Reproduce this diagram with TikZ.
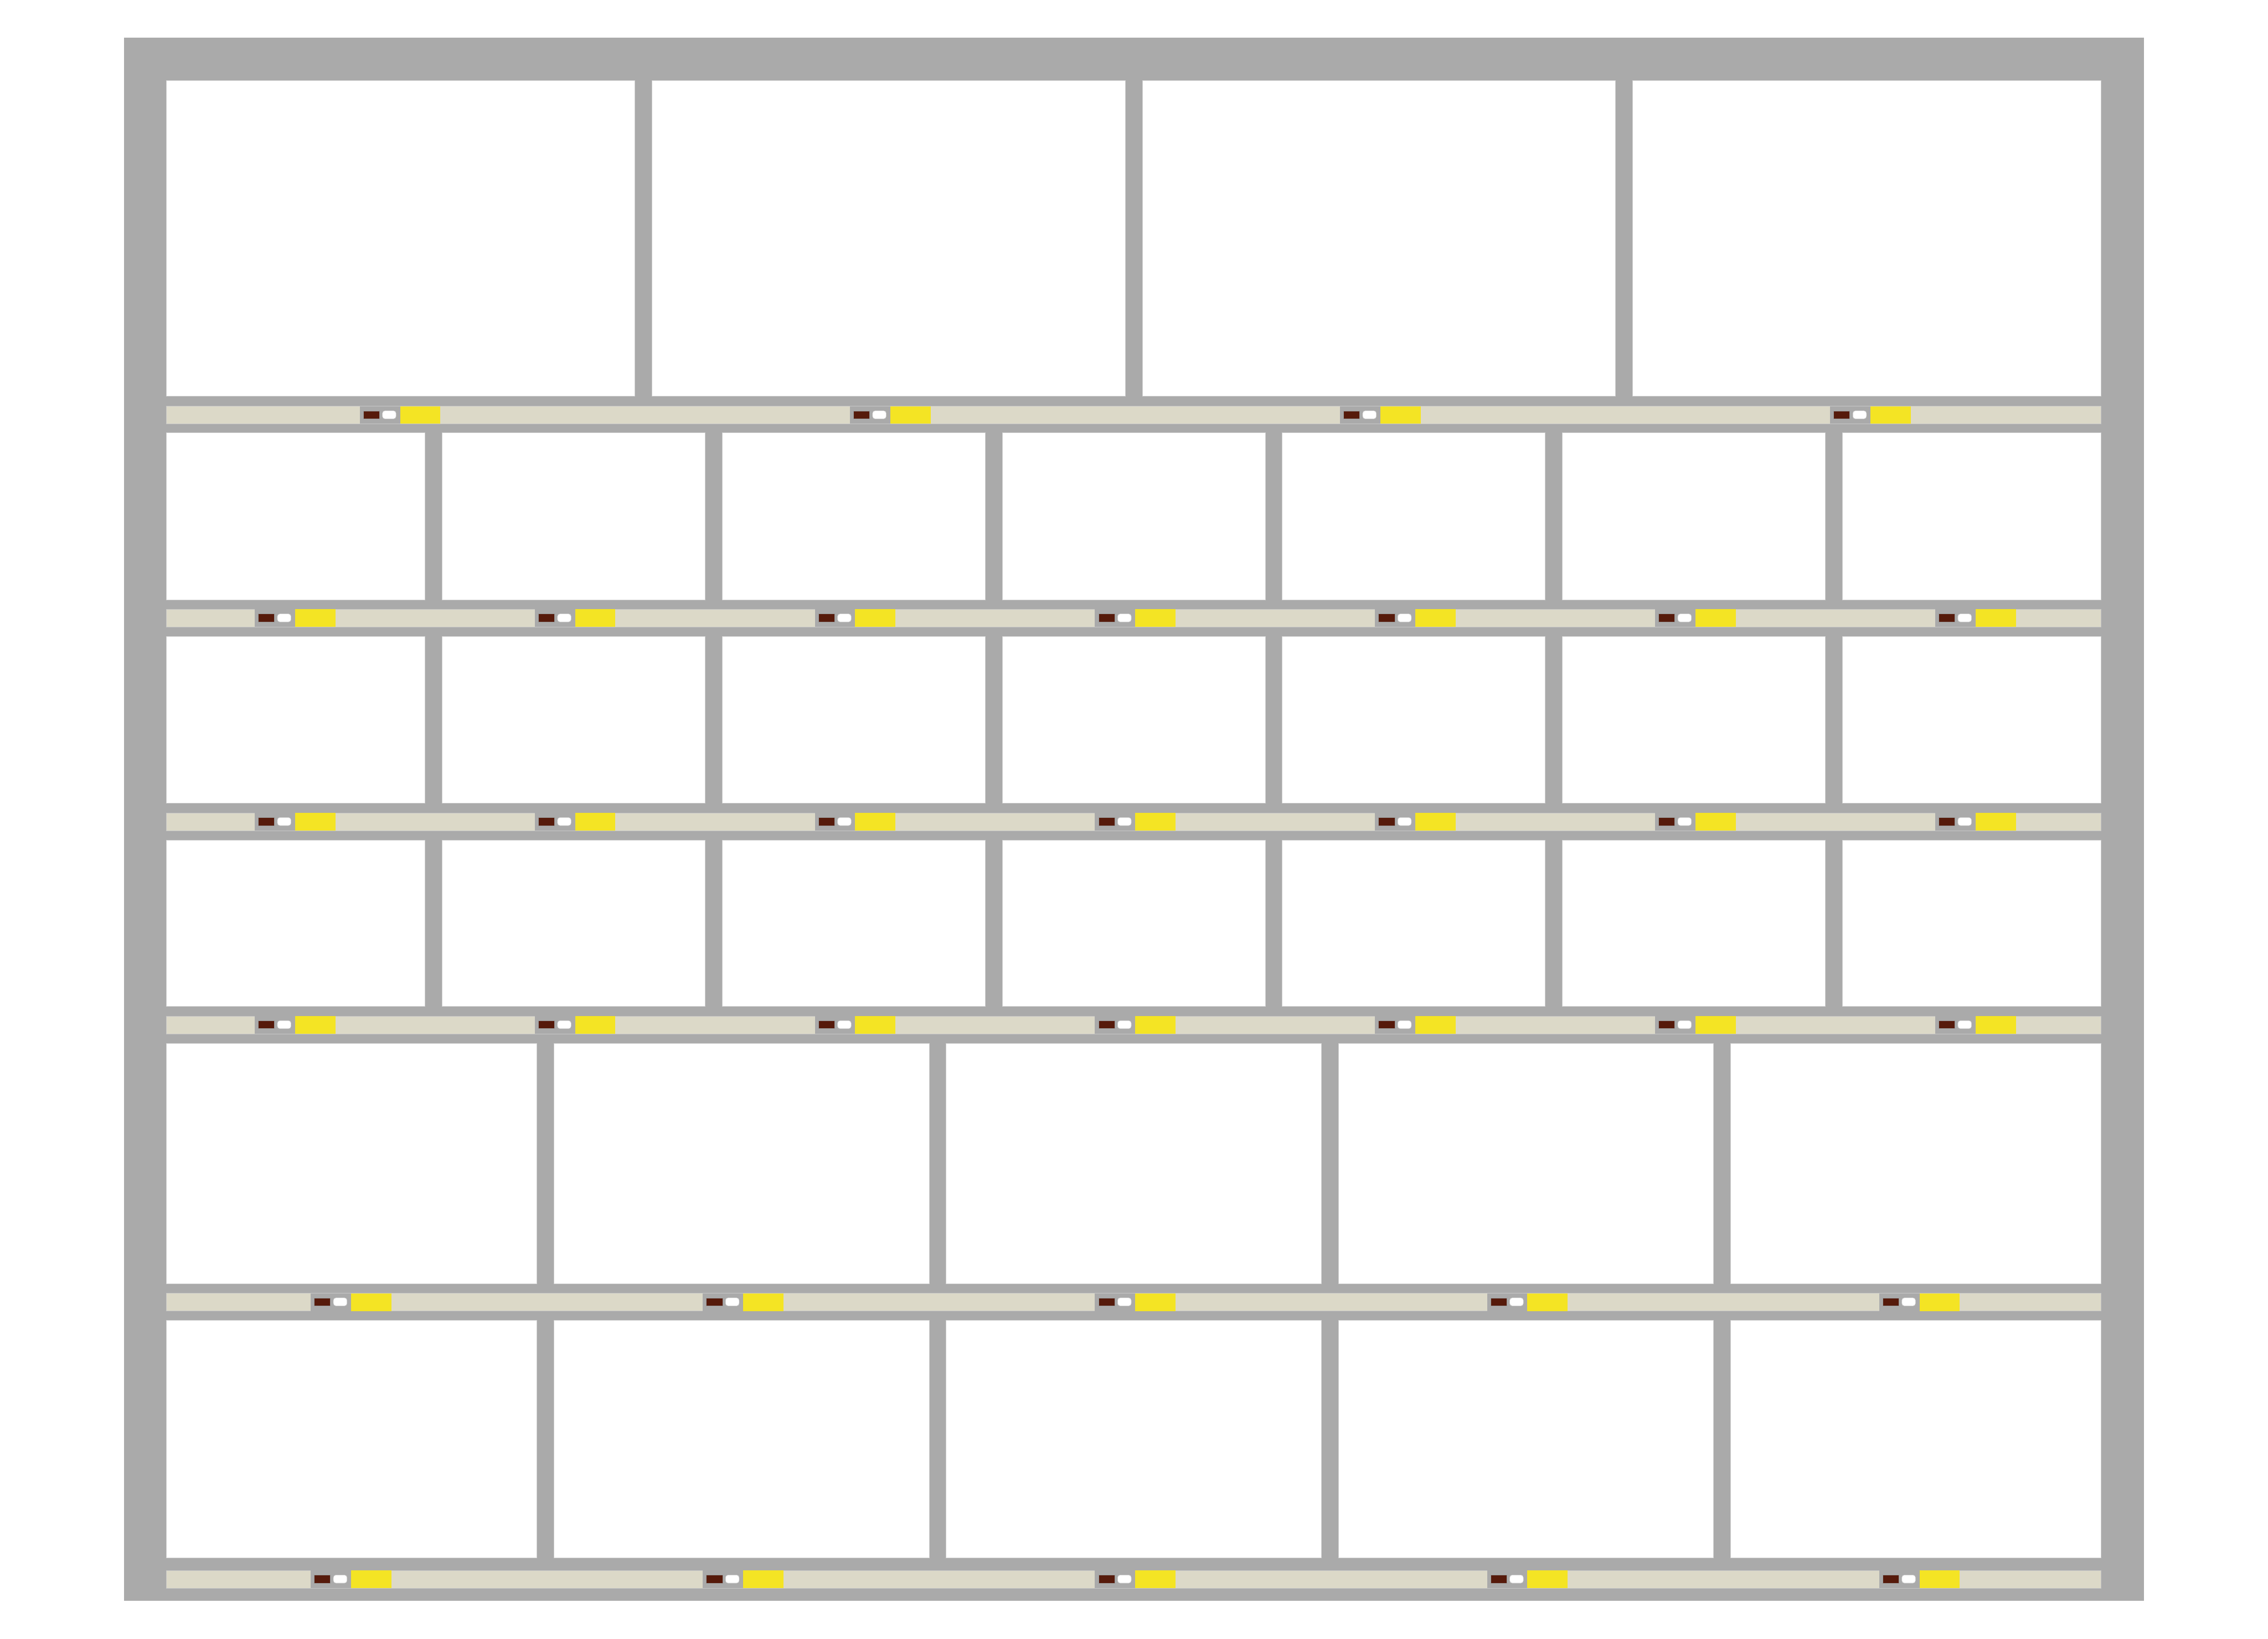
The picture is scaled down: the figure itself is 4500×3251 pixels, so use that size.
\documentclass[tikz,border=0pt]{standalone}
\usepackage{tikz}
\definecolor{framegray}{HTML}{AAAAAA}
\definecolor{stripbeige}{HTML}{DCD9C8}
\definecolor{tagbrown}{HTML}{561A0B}
\definecolor{tagyellow}{HTML}{F4E424}
\begin{document}
\begin{tikzpicture}[x=0.1mm,y=-0.1mm,
  frame/.style={fill=framegray},
  cell/.style={fill=white,draw=black!18,line width=0.3pt},
  strip/.style={fill=stripbeige,draw=black!22,line width=0.2pt},
  gap/.style={fill=framegray},
  tagdark/.style={fill=tagbrown,draw=black!40,line width=0.2pt},
  tagwhite/.style={fill=white,draw=black!20,line width=0.2pt,rounded corners=1.4pt},
  tagbar/.style={fill=tagyellow}]
\def\xl{330}   
\def\xr{4169}  
\def\xc{2249.5}
\def\dw{17}    
\useasboundingbox (0,0) rectangle (4500,3251);
\fill[frame] (246,75) rectangle (4254,3176);
\foreach \top/\bot/\n/\st in {160/786/4/806,859/1190/7/1209,1263/1594/7/1613,1667/1997/7/2016,2070/2547/5/2566,2620/3091/5/3116} {
  \pgfmathsetmacro{\pitch}{3890/\n}
  \draw[strip] (\xl,\st) rectangle (\xr,\st+35);
  \foreach \i in {1,...,\n} {
    \pgfmathsetmacro{\lft}{\i==1 ? \xl : \xc+(\i-1-\n/2)*\pitch+\dw}
    \pgfmathsetmacro{\rgt}{\i==\n ? \xr : \xc+(\i-\n/2)*\pitch-\dw}
    \pgfmathsetmacro{\c}{\xc+(\i-0.5-\n/2)*\pitch+3}
    \draw[cell] (\lft,\top) rectangle (\rgt,\bot);
    \fill[gap] (\c-80,\st) rectangle (\c,\st+35);
    \draw[tagdark] (\c-73,\st+9) rectangle (\c-41,\st+25);
    \draw[tagwhite] (\c-35,\st+9) rectangle (\c-8,\st+25);
    \fill[tagbar] (\c,\st) rectangle (\c+80,\st+35);
  }
}
\end{tikzpicture}
\end{document}
